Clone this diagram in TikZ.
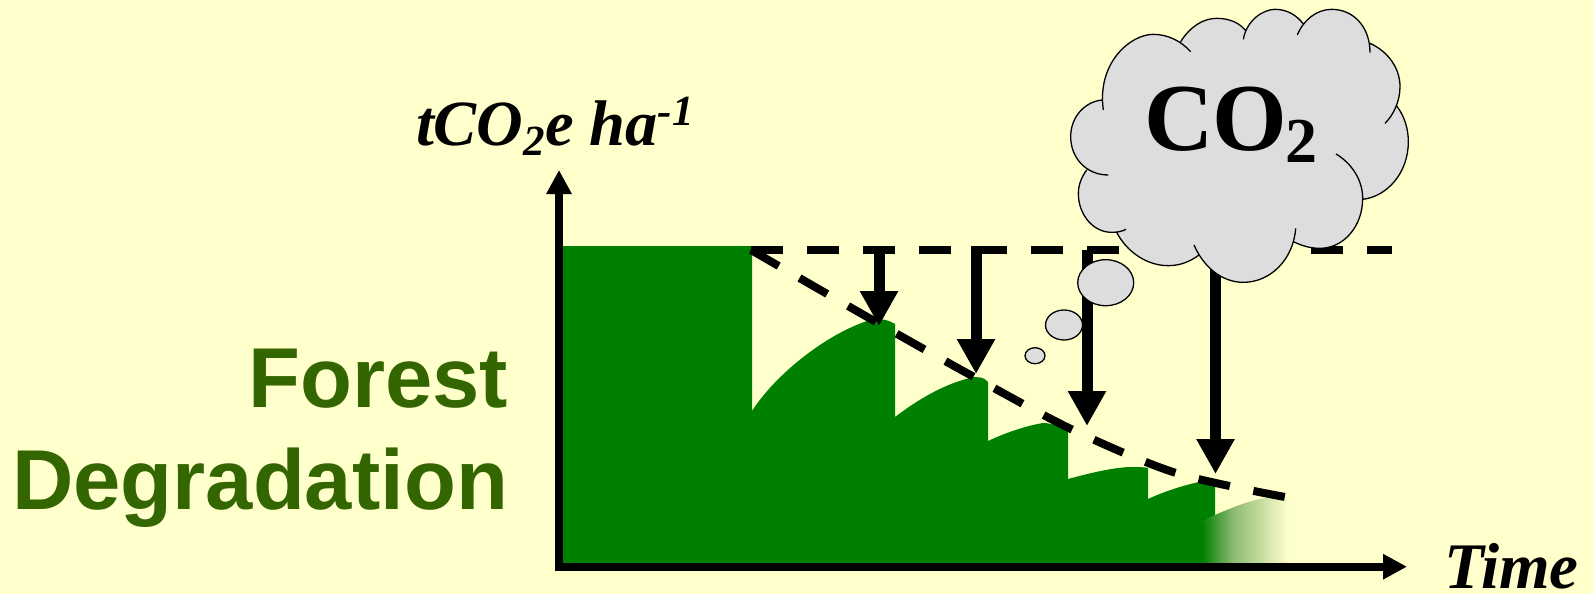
\documentclass[tikz,border=0pt]{standalone}
\usepackage{fontspec}
\setmainfont{Liberation Serif}
\setsansfont{Liberation Sans}
\usetikzlibrary{arrows.meta}
\usetikzlibrary{shapes.geometric}
\definecolor{bgc}{HTML}{FFFFCC}
\definecolor{forest}{HTML}{008000}
\definecolor{forestmid}{HTML}{8DBB73}
\definecolor{lab}{HTML}{336600}
\definecolor{cloudc}{HTML}{DDDDDD}
\pgfdeclarehorizontalshading{fadeout}{100bp}{color(0bp)=(forest);color(25bp)=(forest);color(42bp)=(forestmid);color(72bp)=(bgc);color(100bp)=(bgc)}
\tikzset{
  axisline/.style={line width=8pt,-{Triangle[width=24pt,length=24pt]}},
  droparrow/.style={line width=11pt,-{Triangle[width=36pt,length=35pt]}},
  refline/.style={line width=8pt,dash pattern=on 32pt off 24pt},
  bubble/.style={draw=black,line width=1.3pt,fill=cloudc,ellipse,inner sep=0pt},
  lbl/.style={inner sep=0pt,outer sep=0pt}
}
\newcommand{\fs}[1]{\fontsize{#1}{#1}\selectfont}
\begin{document}
\begin{tikzpicture}[x=1pt,y=-1pt]
\useasboundingbox (0,0) rectangle (1594,594);
\fill[bgc] (0,0) rectangle (1594,594);
% forest stock
\fill[forest] (563,246) -- (752,246) -- (752,411)
  .. controls (775,375) and (825,335) .. (867,321)
  .. controls (875,318) and (885,318) .. (895,324) -- (895,417)
  .. controls (920,398) and (945,384) .. (970,378)
  .. controls (975,376) and (985,377) .. (988,382) -- (988,441)
  .. controls (1005,433) and (1025,426) .. (1043,423)
  .. controls (1052,423) and (1062,427) .. (1068,432) -- (1068,479)
  .. controls (1090,473) and (1115,467) .. (1132,467)
  .. controls (1138,467) and (1144,467) .. (1148,468) -- (1148,499)
  .. controls (1165,491) and (1185,485) .. (1199,482)
  .. controls (1205,482) and (1210,484) .. (1215,487) -- (1215,515)
  -- (1202,523) -- (1202,563) -- (563,563) -- cycle;
\path[shading=fadeout] (1202,523) -- (1215,515)
  .. controls (1235,506) and (1255,499) .. (1266,498) -- (1294,498)
  -- (1294,563) -- (1202,563) -- cycle;
% reference and degradation lines
\coordinate (rs) at (751,250);
\coordinate (re) at (1392,250);
\draw[refline] (rs) -- (re);
\draw[refline] plot[smooth,tension=0.5] coordinates {(751,250) (876,322) (974,377) (1073,430) (1176,473) (1285,497)};
% drops
\coordinate (a1s) at (879,246); \coordinate (a1e) at (879,326);
\coordinate (a2s) at (976,246); \coordinate (a2e) at (976,374);
\coordinate (a3s) at (1087,250); \coordinate (a3e) at (1087,426);
\coordinate (a4s) at (1215.5,250); \coordinate (a4e) at (1215.5,474);
\draw[droparrow] (a1s) -- (a1e);
\draw[droparrow] (a2s) -- (a2e);
\draw[droparrow] (a3s) -- (a3e);
\draw[droparrow] (a4s) -- (a4e);
% axes
\coordinate (yb) at (559,570); \coordinate (yt) at (559,170);
\coordinate (xl) at (555,566.7); \coordinate (xr) at (1407,566.7);
\draw[axisline] (yb) -- (yt);
\draw[axisline] (xl) -- (xr);
% cloud
\begin{scope}[shift={(1040,0)},x=0.33333pt,y=-0.33333pt]
\path[fill=cloudc,draw=cloudc,line width=1.6pt,line join=round] (186,300) -- (422,125) -- (617,92) -- (787,70) -- (990,130) -- (1070,318) -- (968,598) -- (762,725) -- (477,765) -- (230,697) -- (140,510) -- cycle;
\path[fill=cloudc,draw=black,line width=1.3pt]
  (190,330) .. controls (170,190) and (270,103) .. (340,103) .. controls (385,103) and (425,125) .. (452,155)
  (422,125) .. controls (450,80) and (490,55) .. (530,55) .. controls (570,55) and (600,70) .. (617,92)
  (610,118) .. controls (620,60) and (670,28) .. (705,28) .. controls (740,28) and (770,45) .. (790,72)
  (772,105) .. controls (790,60) and (830,28) .. (875,28) .. controls (940,28) and (990,80) .. (990,158)
  (990,130) .. controls (1045,155) and (1080,205) .. (1080,260) .. controls (1080,305) and (1060,345) .. (1035,370)
  (1070,318) .. controls (1095,350) and (1105,390) .. (1105,425) .. controls (1105,520) and (1040,590) .. (968,598)
  (888,462) .. controls (935,490) and (968,540) .. (968,595) .. controls (968,680) and (910,745) .. (840,745) .. controls (810,745) and (785,737) .. (760,725)
  (767,685) .. controls (760,780) and (690,847) .. (610,847) .. controls (545,847) and (490,800) .. (462,735)
  (477,765) .. controls (450,785) and (420,797) .. (385,797) .. controls (320,797) and (260,755) .. (230,697)
  (258,688) .. controls (245,695) and (230,697) .. (215,697) .. controls (160,697) and (115,645) .. (115,580) .. controls (115,555) and (125,530) .. (140,510)
  (205,525) .. controls (140,525) and (92,475) .. (92,410) .. controls (92,350) and (135,305) .. (186,300);
\end{scope}
\node[bubble,minimum width=56pt,minimum height=46pt] (b1) at (1105.7,282.7) {};
\node[bubble,minimum width=37pt,minimum height=30pt] (b2) at (1064,325) {};
\node[bubble,minimum width=20pt,minimum height=16pt] (b3) at (1035,355.7) {};
% text
\node[lbl,anchor=base west] (co) at (1144,150) {\fs{96}\bfseries C\kern-1ptO\kern-2pt\raisebox{-12pt}{\fs{64}2}};
\node[lbl,anchor=base west] (yl) at (416,145) {\fs{64.5}\bfseries\itshape tCO\raisebox{-10pt}{\fs{43}2}e ha\raisebox{20pt}{\fs{43}-1}};
\node[lbl,anchor=base west] (tl) at (1444,588) {\fs{65}\bfseries\itshape Time};
\node[lbl,anchor=base east,text=lab] (f1) at (508,407) {\fs{85}\sffamily\bfseries Forest};
\node[lbl,anchor=base east,text=lab] (f2) at (508,509) {\fs{85}\sffamily\bfseries Degradation};
\end{tikzpicture}
\end{document}
